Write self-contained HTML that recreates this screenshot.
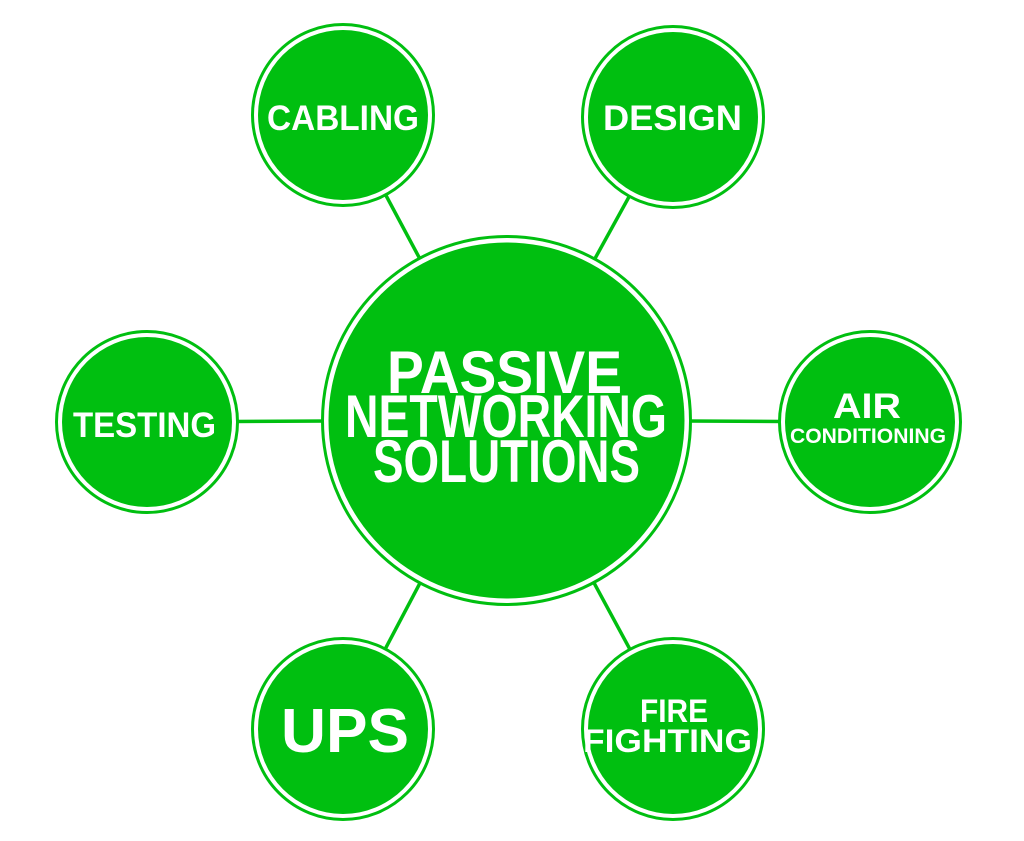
<!DOCTYPE html>
<html><head><meta charset="utf-8"><style>html,body{margin:0;padding:0;background:#fff}svg{display:block}</style></head>
<body>
<svg width="1024" height="841" viewBox="0 0 1024 841" xmlns="http://www.w3.org/2000/svg">
<g stroke="#00bf10" stroke-width="3.5">
<line x1="506" y1="420" x2="343" y2="115"/>
<line x1="506" y1="420" x2="673" y2="117"/>
<line x1="506" y1="420" x2="147" y2="422"/>
<line x1="506" y1="420" x2="870" y2="422"/>
<line x1="506" y1="420" x2="343" y2="729"/>
<line x1="506" y1="420" x2="673" y2="729"/>
</g>
<g fill="#fff" stroke="#00bf10" stroke-width="3">
<circle cx="506.5" cy="420.5" r="184"/>
<circle cx="343" cy="115" r="90.5"/>
<circle cx="673" cy="117" r="90.5"/>
<circle cx="147" cy="422" r="90.5"/>
<circle cx="870" cy="422" r="90.5"/>
<circle cx="343" cy="729" r="90.5"/>
<circle cx="673" cy="729" r="90.5"/>
</g>
<g fill="#00bf10">
<circle cx="506.5" cy="420.5" r="178"/>
<circle cx="343" cy="115" r="85"/>
<circle cx="673" cy="117" r="85"/>
<circle cx="147" cy="422" r="85"/>
<circle cx="870" cy="422" r="85"/>
<circle cx="343" cy="729" r="85"/>
<circle cx="673" cy="729" r="85"/>
</g>
<g fill="#fff" font-family="Liberation Sans, sans-serif" font-weight="bold">
<text x="387" y="393" font-size="60" textLength="235" lengthAdjust="spacingAndGlyphs">PASSIVE</text>
<text x="345" y="437" font-size="60" textLength="322" lengthAdjust="spacingAndGlyphs">NETWORKING</text>
<text x="373" y="482" font-size="60" textLength="267" lengthAdjust="spacingAndGlyphs">SOLUTIONS</text>
<text x="267" y="130" font-size="35" textLength="152" lengthAdjust="spacingAndGlyphs">CABLING</text>
<text x="603" y="130" font-size="35" textLength="139" lengthAdjust="spacingAndGlyphs">DESIGN</text>
<text x="73" y="437" font-size="35" textLength="143" lengthAdjust="spacingAndGlyphs">TESTING</text>
<text x="833" y="418" font-size="35" textLength="68" lengthAdjust="spacingAndGlyphs">AIR</text>
<text x="790" y="443" font-size="21" textLength="156" lengthAdjust="spacingAndGlyphs">CONDITIONING</text>
<text x="281" y="752" font-size="62" textLength="128" lengthAdjust="spacingAndGlyphs">UPS</text>
<text x="640" y="722" font-size="32" textLength="68" lengthAdjust="spacingAndGlyphs">FIRE</text>
<text x="583" y="752" font-size="32" textLength="169" lengthAdjust="spacingAndGlyphs">FIGHTING</text>
</g>
</svg>
</body></html>
